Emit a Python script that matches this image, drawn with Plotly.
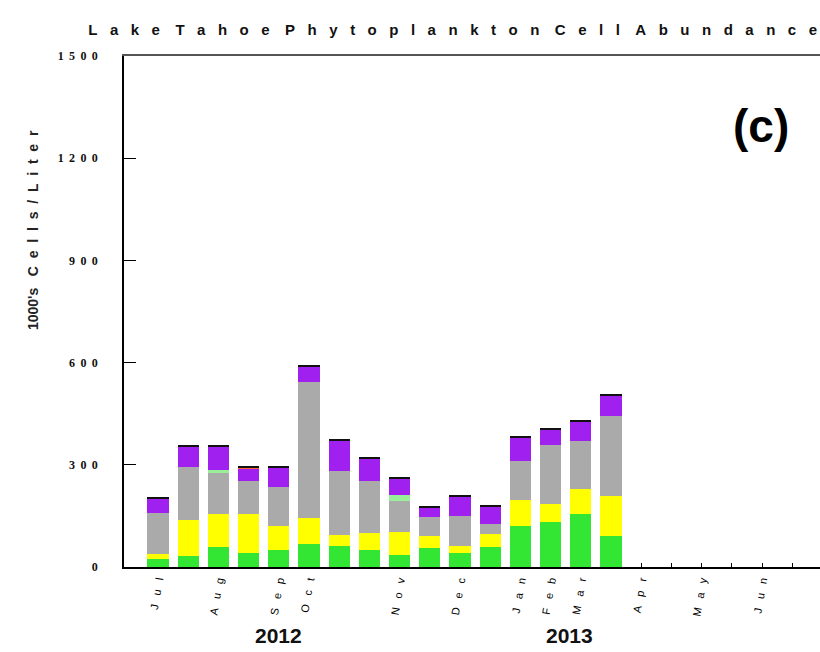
import plotly.graph_objects as go

# ---------------- data ----------------
slots = list(range(1, 17))  # sampling slots Jul 2012 - Mar 2013
green = [24, 32, 60, 41, 51, 68, 63, 51, 36, 55, 40, 60, 120, 132, 156, 92]
yellow = [15, 105, 96, 116, 69, 77, 30, 50, 68, 35, 23, 38, 78, 54, 74, 116]
gray = [119, 158, 120, 95, 115, 398, 188, 151, 89, 56, 86, 29, 113, 171, 139, 234]
light_green = [0, 0, 10, 0, 0, 0, 0, 0, 17, 0, 0, 0, 0, 0, 0, 0]
purple = [42, 59, 68, 35, 57, 47, 89, 67, 51, 30, 58, 52, 68, 46, 59, 62]
orange = [0, 0, 0, 6, 0, 0, 0, 0, 0, 0, 0, 0, 0, 0, 0, 0]
black = [3, 3, 3, 3, 3, 3, 3, 3, 3, 3, 3, 3, 3, 3, 3, 3]

month_slots = [1, 3, 5, 6, 9, 11, 13, 14, 15, 17, 19, 21]
month_labels = ["Jul", "Aug", "Sep", "Oct", "Nov", "Dec", "Jan", "Feb", "Mar", "Apr", "May", "Jun"]
empty_tick_slots = [17, 18, 19, 20, 21, 22]
year_labels = ["2012", "2013"]
year_slots = [5.0, 14.64]
y_ticks = [0, 300, 600, 900, 1200, 1500]

NB = "\u00a0"
TH = "\u2009"


def spaced(s, sep):
    return sep.join(list(s))


series = [
    ("Group 1", green, "#33e633"),
    ("Group 2", yellow, "#ffff00"),
    ("Group 3", gray, "#aaaaaa"),
    ("Group 4", light_green, "#99ee99"),
    ("Group 5", purple, "#a020f0"),
    ("Group 6", orange, "#ff6633"),
    ("Group 7", black, "#111111"),
]

fig = go.Figure()
for name, vals, col in series:
    fig.add_trace(go.Bar(x=slots, y=vals, name=name, width=0.7,
                         marker=dict(color=col, line=dict(width=0)),
                         showlegend=False))

# invisible traces to instantiate overlay axes
fig.add_trace(go.Scatter(x=[None], y=[None], xaxis="x2", showlegend=False, hoverinfo="skip"))
fig.add_trace(go.Scatter(x=[None], y=[None], xaxis="x3", showlegend=False, hoverinfo="skip"))

xr = [-0.126, 22.92]

title_text = (NB * 3 + TH).join(spaced(w, NB * 3) for w in "Lake Tahoe Phytoplankton Cell Abundance".split())

fig.update_layout(
    width=820, height=652,
    margin=dict(l=124, r=0, t=56, b=85),
    paper_bgcolor="white", plot_bgcolor="white",
    barmode="stack",
    title=dict(text=title_text,
               x=0.552, xanchor="center", y=0.955, yanchor="middle",
               font=dict(family="Liberation Sans", size=15, color="#111111", weight="bold")),
    xaxis=dict(range=xr, showgrid=False, zeroline=False,
               showline=True, linecolor="black", linewidth=1.5,
               tickmode="array", tickvals=empty_tick_slots,
               ticks="inside", ticklen=4, tickcolor="black", tickwidth=1,
               showticklabels=False),
    xaxis2=dict(range=xr, overlaying="x", side="top", anchor="y",
                showgrid=False, zeroline=False, showline=True,
                linecolor="#555555", linewidth=2, ticks="", showticklabels=False),
    xaxis3=dict(range=xr, overlaying="x", side="bottom", anchor="y",
                showgrid=False, zeroline=False, showline=False, ticks="",
                tickmode="array", tickvals=month_slots,
                ticktext=[spaced(m, NB * 3) for m in month_labels],
                tickangle=-80, ticklabelstandoff=4,
                tickfont=dict(family="Liberation Sans", size=11, color="#000000")),
    yaxis=dict(range=[0, 1500], showgrid=False, zeroline=False,
               showline=True, linecolor="black", linewidth=1.5,
               tickmode="array", tickvals=y_ticks,
               ticktext=[spaced(str(v), NB + TH) for v in y_ticks],
               ticks="inside", ticklen=12, tickcolor="black", tickwidth=1,
               ticklabelstandoff=22,
               tickfont=dict(family="Liberation Serif", size=12, color="#111111", weight="bold")),
)

# y-axis title
fig.add_annotation(text="1000's" + NB * 3 + spaced("Cells/Liter", NB * 2),
                   xref="paper", yref="paper", x=-0.131, y=0.659,
                   xanchor="center", yanchor="middle", textangle=-90, showarrow=False,
                   font=dict(family="Liberation Sans", size=14, color="#222222", weight="bold"))

# year labels
for lab, xs in zip(year_labels, year_slots):
    fig.add_annotation(text=lab, x=xs, xref="x", y=-0.134, yref="paper",
                       xanchor="center", yanchor="middle", showarrow=False,
                       font=dict(family="Liberation Sans", size=21, color="#111111", weight="bold"))

# panel label
fig.add_annotation(text="(c)", x=20.97, xref="x", y=1295, yref="y",
                   xanchor="center", yanchor="middle", showarrow=False,
                   font=dict(family="Liberation Sans", size=46, color="#000000", weight="bold"))

fig.write_html("out.html")
